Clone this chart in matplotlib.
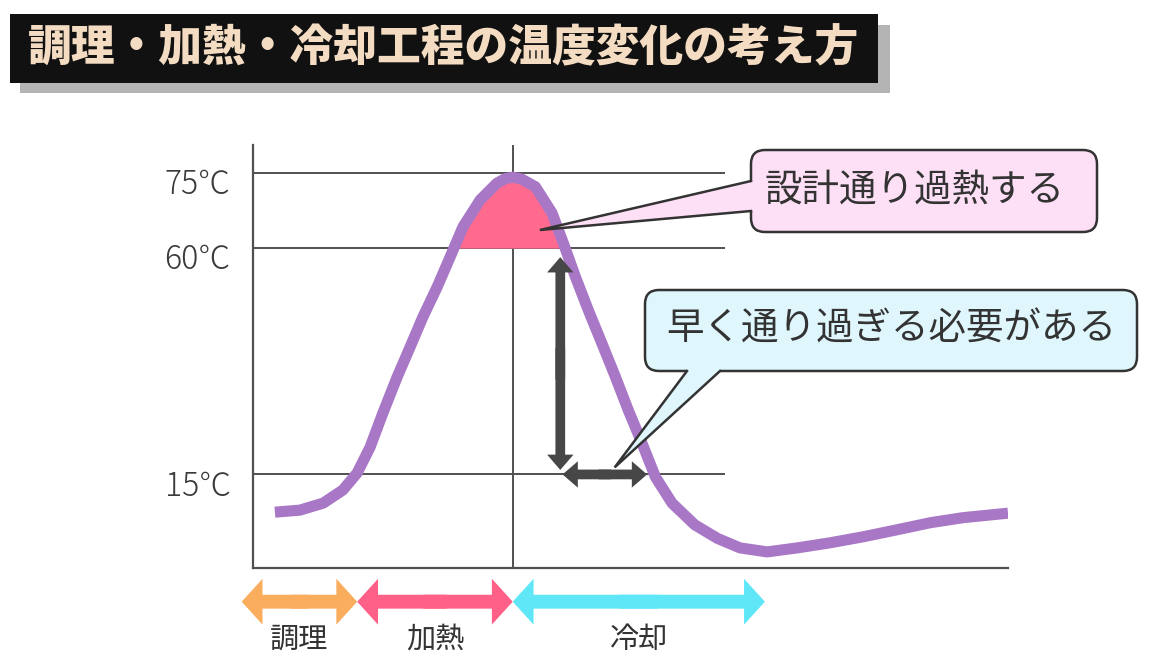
import numpy as np
import matplotlib
matplotlib.use("Agg")
import matplotlib.pyplot as plt
from matplotlib.patches import FancyBboxPatch, Polygon, Rectangle
from matplotlib.transforms import offset_copy

plt.rcParams['font.family'] = ['Noto Sans CJK JP', 'DejaVu Sans']

# 時間(任意単位)と品温(℃)
time = [2.9, 6.2, 9.3, 11.9, 13.8, 15.5, 17.2, 19.1, 20.8, 22.5, 24.4, 26.1, 27.8,
        30.1, 32.3, 33.4, 34.4, 35.6, 37.4, 39.6, 41.1, 42.7, 44.4, 46.2, 48.0,
        49.7, 51.5, 53.3, 55.5, 58.5, 61.5, 64.5, 68.1, 72.1, 76.4, 80.8, 85.3,
        89.7, 94.0, 100.0]
temp = [7.5, 7.9, 9.3, 11.9, 15.3, 20.4, 27.2, 34.4, 40.3, 46.3, 52.3, 58.2, 64.2,
        69.6, 72.9, 73.8, 74.1, 73.7, 72.2, 67.0, 61.0, 54.3, 47.7, 41.1, 34.4,
        27.8, 21.3, 14.5, 9.3, 5.0, 2.3, 0.4, -0.4, 0.4, 1.4, 2.6, 4.0,
        5.4, 6.4, 7.3]

ytick_vals = [75, 60, 15]
ytick_labels = ["75℃", "60℃", "15℃"]

peak_time = 34.4
overheat_temp = 60
cool_temp = 15
hold_time = 40.7        # 縦矢印の位置
pass_time = 52.2        # 15℃を通過する時刻

phase_names = ["調理", "加熱", "冷却"]
phase_edges = [-1.5, 13.8, 34.4, 67.8]
phase_colors = ["#fbad5e", "#ff6088", "#5fe7f8"]

title = "調理・加熱・冷却工程の温度変化の考え方"
note_heat = "設計通り過熱する"
note_cool = "早く通り過ぎる必要がある"

W, H = 1150, 660
fig = plt.figure(figsize=(W / 100, H / 100), dpi=100)
ax = fig.add_axes([253 / W, (H - 568) / H, (1008 - 253) / W, (568 - 145) / H])
ax.set_xlim(0, 100)
ax.set_ylim(-3.6, 80.5)

grid_col = "#505050"
for s in ["top", "right"]:
    ax.spines[s].set_visible(False)
for s in ["left", "bottom"]:
    ax.spines[s].set_color(grid_col)
    ax.spines[s].set_linewidth(1.6)
ax.set_xticks([])
ax.set_yticks([])

# 横線・縦線
ax.hlines(ytick_vals, 0, 62.5, color=grid_col, lw=1.4, zorder=1)
ax.axvline(peak_time, color=grid_col, lw=1.4, zorder=1)

# y軸ラベル
lab_tr = offset_copy(ax.get_yaxis_transform(), fig=fig, x=-22, y=-12, units="dots")
for v, s in zip(ytick_vals, ytick_labels):
    ax.text(0, v, s, transform=lab_tr, ha="right", va="center", fontsize=23,
            color="#3a3a3a", fontweight="light")

t = np.array(time)
T = np.array(temp)
ax.fill_between(t, T, overheat_temp, where=T >= overheat_temp, interpolate=True,
                color="#ff6a8e", lw=0, zorder=2)
ax.plot(t, T, color="#a877c6", lw=8, solid_capstyle="butt", solid_joinstyle="round",
        zorder=3)


def double_arrow(p0, p1, color, hl, hw, tw, z=4):
    mid = np.array([(p0[0] + p1[0]) / 2, (p0[1] + p1[1]) / 2])
    style = f"simple,head_length={hl},head_width={hw},tail_width={tw}"
    for end, other in ((p0, p1), (p1, p0)):
        # 少し重ねて継ぎ目を消す
        start = mid + (np.array(other) - mid) * 0.15
        ax.annotate("", xy=end, xytext=tuple(start), annotation_clip=False,
                    arrowprops=dict(arrowstyle=style, color=color, lw=0,
                                    shrinkA=0, shrinkB=0, mutation_scale=1),
                    zorder=z)


# 60℃→15℃ と 15℃通過の矢印
arrow_col = "#474747"
double_arrow((hold_time, 58.2), (hold_time, 15.9), arrow_col, 11, 19, 7)
double_arrow((hold_time + 0.3, cool_temp), (pass_time, cool_temp), arrow_col, 11, 19, 7)

# 工程の矢印
arrow_y = -10.3
for i, name in enumerate(phase_names):
    a, b = phase_edges[i], phase_edges[i + 1]
    double_arrow((a, arrow_y), (b, arrow_y), phase_colors[i], 15, 33, 10)
    ax.text((a + b) / 2, -17.9, name, ha="center", va="center", fontsize=21,
            color="#333333", clip_on=False)

# 注釈・タイトル用のオーバーレイ(ピクセル座標)
ov = fig.add_axes([0, 0, 1, 1], zorder=5)
ov.set_xlim(0, W)
ov.set_ylim(H, 0)
ov.axis("off")


def to_px(x, y):
    d = ax.transData.transform((x, y))
    return d[0], H - d[1]


def callout(box, base, inward, tip, fc, text, text_xy):
    x0, y0, x1, y1 = box
    ov.add_patch(FancyBboxPatch((x0, y0), x1 - x0, y1 - y0,
                                boxstyle="round,pad=0,rounding_size=14",
                                fc=fc, ec="#333333", lw=1.8, zorder=2))
    b0, b1 = base
    dx, dy = inward
    ov.add_patch(Polygon([(b0[0] + dx, b0[1] + dy), b0, tip, b1,
                          (b1[0] + dx, b1[1] + dy)], closed=True, fc=fc,
                         ec="none", zorder=3))
    ov.plot([b0[0], tip[0], b1[0]], [b0[1], tip[1], b1[1]], color="#333333",
            lw=1.8, zorder=4, solid_joinstyle="miter")
    ov.text(text_xy[0], text_xy[1], text, ha="center", va="center", fontsize=27,
            color="#333333", zorder=5)


callout((751, 150, 1097, 232), ((751, 181), (751, 211)), (5, 0),
        to_px(38.0, 63.6), "#fde0f6", note_heat, (915, 190))
callout((645, 290, 1137, 371), ((687, 371), (720, 371)), (0, -5),
        to_px(47.9, 16.4), "#dff6fd", note_cool, (891, 329))

# タイトル
ov.add_patch(Rectangle((20, 25), 870, 68, fc="#b4b4b4", ec="none", zorder=1))
ov.add_patch(Rectangle((10, 14), 868, 69, fc="#111111", ec="none", zorder=2))
ov.text(444, 48, title, ha="center", va="center", fontsize=31.5, fontweight="heavy",
        color="#f4dcc2", zorder=3)

fig.savefig("out.png", dpi=100)
